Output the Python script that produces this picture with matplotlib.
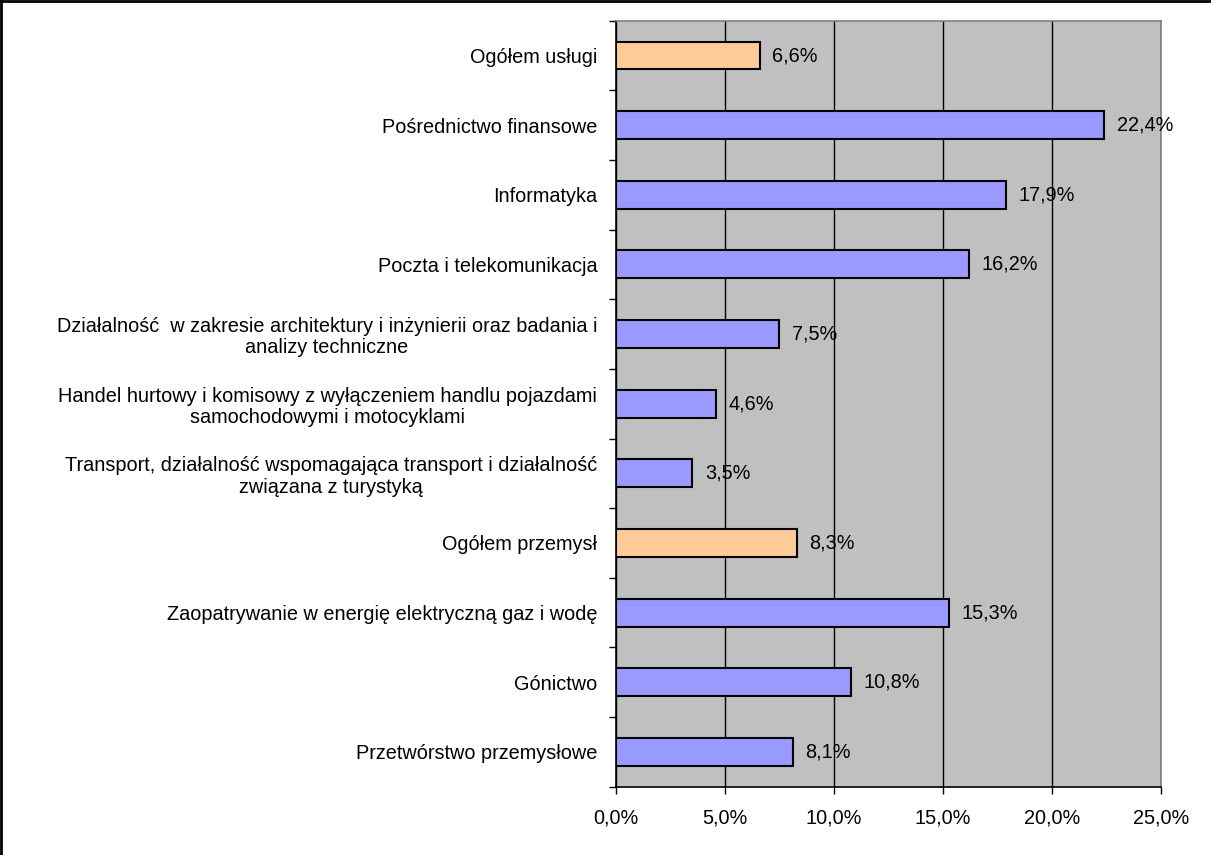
import matplotlib.pyplot as plt
import numpy as np
from matplotlib.lines import Line2D

plt.rcParams["font.family"] = ["Liberation Sans", "DejaVu Sans"]

categories = [
    "Ogółem usługi",
    "Pośrednictwo finansowe",
    "Informatyka",
    "Poczta i telekomunikacja",
    "Działalność  w zakresie architektury i inżynierii oraz badania i\nanalizy techniczne",
    "Handel hurtowy i komisowy z wyłączeniem handlu pojazdami\nsamochodowymi i motocyklami",
    "Transport, działalność wspomagająca transport i działalność\nzwiązana z turystyką",
    "Ogółem przemysł",
    "Zaopatrywanie w energię elektryczną gaz i wodę",
    "Gónictwo",
    "Przetwórstwo przemysłowe",
]
values = [6.6, 22.4, 17.9, 16.2, 7.5, 4.6, 3.5, 8.3, 15.3, 10.8, 8.1]
totals = ["Ogółem usługi", "Ogółem przemysł"]
xticks = [0, 5, 10, 15, 20, 25]

colors = ["#FFCC99" if c in totals else "#9999FF" for c in categories]
FS = 14.3

fig = plt.figure(figsize=(12.11, 8.55), dpi=100)
ax = fig.add_axes([0.5087, 0.0799, 0.4498, 0.8959])
ax.set_facecolor("#C0C0C0")

y = np.arange(len(categories))
ax.barh(y, values, height=0.4, color=colors, edgecolor="black", linewidth=1.5, zorder=3)
for yi, v in zip(y, values):
    ax.annotate(f"{v:.1f}%".replace(".", ","), (v, yi), xytext=(9, 0),
                textcoords="offset points", va="center", ha="left", fontsize=FS)

ax.set_ylim(len(categories) - 0.5, -0.5)
ax.set_xlim(0, 25)
ax.set_xticks(xticks)
ax.set_xticklabels([f"{t:.1f}%".replace(".", ",") for t in xticks], fontsize=FS)
ax.set_yticks(y)
ax.set_yticklabels(categories, fontsize=FS, multialignment="center", linespacing=1.15)
ax.set_yticks(np.arange(len(categories) + 1) - 0.5, minor=True)
ax.tick_params(axis="y", which="major", length=0, pad=13.5)
ax.tick_params(axis="y", which="minor", length=5, width=1, direction="out")
ax.tick_params(axis="x", length=5, width=1, direction="out", pad=11)
ax.grid(axis="x", color="black", linewidth=1, zorder=1)

ax.spines["left"].set_color("black")
ax.spines["bottom"].set_color("black")
ax.spines["right"].set_color("#808080")
ax.spines["top"].set_color("#808080")
for s in ax.spines.values():
    s.set_linewidth(1.2)

fig.add_artist(Line2D([0.001, 0.001], [0, 1], color="black", linewidth=2, transform=fig.transFigure))
fig.add_artist(Line2D([0, 1], [0.999, 0.999], color="black", linewidth=2, transform=fig.transFigure))

fig.savefig("out.png", dpi=100)
